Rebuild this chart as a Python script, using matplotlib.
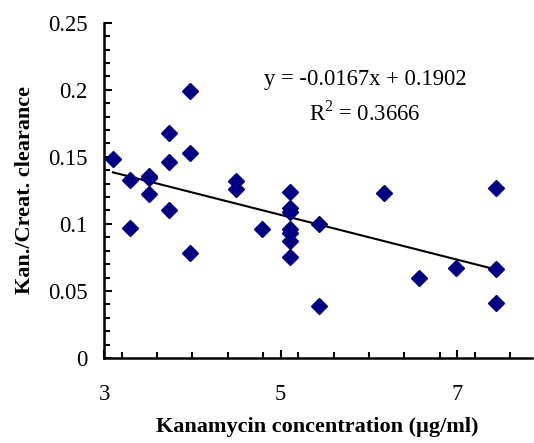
import numpy as np
import matplotlib
matplotlib.use("Agg")
import matplotlib.pyplot as plt
from matplotlib.ticker import MultipleLocator

# datos
conc = [3.10, 3.29, 3.29, 3.51, 3.51, 3.51, 3.74, 3.74, 3.74, 3.97, 3.97, 3.97,
        4.50, 4.50, 4.79, 5.11, 5.11, 5.11, 5.11, 5.11, 5.11, 5.11,
        5.43, 5.43, 6.17, 6.57, 6.99, 7.44, 7.44, 7.44]
ratio = [0.148, 0.133, 0.097, 0.136, 0.134, 0.122, 0.168, 0.146, 0.110, 0.199, 0.153, 0.078,
         0.132, 0.126, 0.096, 0.124, 0.112, 0.109, 0.096, 0.093, 0.087, 0.075,
         0.100, 0.039, 0.123, 0.060, 0.067, 0.127, 0.066, 0.041]
pendiente = -0.0167
intercepto = 0.1902
r2 = 0.3666

x_ticks = [3, 5, 7]
y_ticks = [0, 0.05, 0.1, 0.15, 0.2, 0.25]
y_labels = ["0", "0.05", "0.1", "0.15", "0.2", "0.25"]

plt.rcParams['font.family'] = ['Liberation Serif', 'DejaVu Serif']
plt.rcParams['mathtext.fontset'] = 'custom'
plt.rcParams['mathtext.rm'] = 'Liberation Serif'

fig = plt.figure(figsize=(5.34, 4.43), dpi=100)
ax = fig.add_axes([0.1948, 0.1919, 0.802, 0.7569])

ax.plot(conc, ratio, linestyle='none', marker='D', markersize=7.8,
        color='#000080', zorder=3)

xl = np.array([min(conc), max(conc)])
ax.plot(xl, pendiente * xl + intercepto, color='black', linewidth=1.5, zorder=2)

ax.text(5.955, 0.2073, "y = -0.0167x + 0.1902", ha='center', va='center', fontsize=16.3)
ax.text(5.955, 0.1827, "R$^2$ = %.4f" % r2, ha='center', va='center', fontsize=16.3)

ax.set_xlim(3, 7.85)
ax.set_ylim(0, 0.25)
ax.set_xticks(x_ticks)
ax.set_xticklabels([str(t) for t in x_ticks])
ax.xaxis.set_minor_locator(MultipleLocator(0.4))
ax.set_yticks(y_ticks)
ax.set_yticklabels(y_labels)
ax.yaxis.set_minor_locator(MultipleLocator(0.01))

ax.tick_params(which='both', direction='in', width=1.5, labelsize=16.3)
ax.tick_params(axis='x', which='major', length=6, pad=19)
ax.tick_params(axis='x', which='minor', length=4.5)
ax.tick_params(axis='y', which='major', length=6, pad=12)
ax.tick_params(axis='y', which='minor', length=4.5)

for s in ['top', 'right']:
    ax.spines[s].set_visible(False)
for s in ['left', 'bottom']:
    ax.spines[s].set_linewidth(1.8)

ax.set_xlabel('Kanamycin concentration (µg/ml)', fontsize=16, fontweight='bold')
ax.set_ylabel('Kan./Creat. clearance', fontsize=16, fontweight='bold')
ax.xaxis.set_label_coords(0.497, -0.206)
ax.xaxis.label.set_va('center')
ax.yaxis.set_label_coords(-0.185, 0.5)
ax.yaxis.label.set_va('center')

fig.savefig('out.png', dpi=100)
